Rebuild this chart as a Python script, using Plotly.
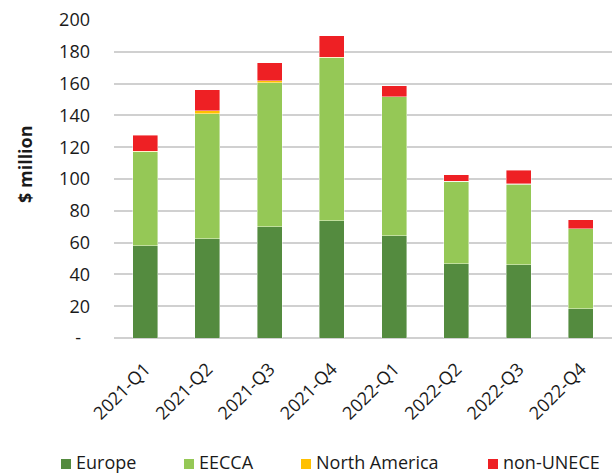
import plotly.graph_objects as go

quarters = ["2021-Q1", "2021-Q2", "2021-Q3", "2021-Q4",
            "2022-Q1", "2022-Q2", "2022-Q3", "2022-Q4"]
europe = [58.0, 62.5, 70.0, 73.6, 64.2, 46.7, 46.1, 18.4]
eecca = [59.2, 78.5, 90.6, 102.7, 87.4, 51.8, 50.6, 50.2]
north_america = [0.3, 1.8, 1.2, 0.2, 0.2, 0.1, 0.2, 0.1]
non_unece = [10.0, 13.2, 11.2, 13.7, 6.7, 4.2, 8.5, 5.8]

y_ticks = [0, 20, 40, 60, 80, 100, 120, 140, 160, 180, 200]
y_tick_text = ["-\u2002"] + [str(v) for v in y_ticks[1:]]

series = [
    ("Europe", europe, "#548B3F"),
    ("EECCA", eecca, "#95C856"),
    ("North America", north_america, "#FFC000"),
    ("non-UNECE", non_unece, "#EE2024"),
]

FONT = "Open Sans"
TEXT_COLOR = "#1a1a1a"

# Plot-area geometry in pixels (used to place the legend row below the axes)
W, H = 615, 474
M_L, M_R, M_T, M_B = 114, 3, 20, 136
PLOT_W = W - M_L - M_R
PLOT_H = H - M_T - M_B


def px_x(px):
    return (px - M_L) / PLOT_W


def px_y(py):
    return (H - M_B - py) / PLOT_H


fig = go.Figure()
for name, values, color in series:
    fig.add_trace(go.Bar(
        name=name, x=quarters, y=values,
        marker=dict(color=color, line=dict(width=0.6, color="rgba(255,255,255,0.7)")),
        hovertemplate=name + ": %{y}<extra></extra>",
        showlegend=False,
    ))

# Legend row: a coloured square followed by the series name
legend_left = [61, 184, 301, 488]
legend_mid = 463
shapes, annotations = [], []
for (name, _, color), left in zip(series, legend_left):
    shapes.append(dict(
        type="rect", xref="paper", yref="paper",
        x0=px_x(left), x1=px_x(left + 10),
        y0=px_y(legend_mid + 6), y1=px_y(legend_mid - 4),
        fillcolor=color, line=dict(width=0),
    ))
    annotations.append(dict(
        text=name, xref="paper", yref="paper",
        x=px_x(left + 14), y=px_y(legend_mid - 1),
        xanchor="left", yanchor="middle",
        borderpad=0,
        showarrow=False,
        font=dict(family=FONT, size=18, color=TEXT_COLOR),
    ))

annotations.append(dict(
    text="<b>$ million</b>",
    xref="paper", yref="paper",
    x=px_x(25), y=px_y(164),
    xanchor="center", yanchor="middle",
    textangle=-90,
    showarrow=False,
    font=dict(family=FONT, size=18, color=TEXT_COLOR),
))

fig.update_layout(
    barmode="stack",
    bargap=0.6,
    width=W, height=H,
    margin=dict(l=M_L, r=M_R, t=M_T, b=M_B),
    paper_bgcolor="white",
    plot_bgcolor="white",
    font=dict(family=FONT, size=18, color=TEXT_COLOR),
    showlegend=False,
    xaxis=dict(
        tickangle=-45,
        tickfont=dict(family=FONT, size=18),
        showgrid=False,
        showline=False,
        ticks="",
        automargin=False,
        ticklabelstandoff=16,
    ),
    yaxis=dict(
        range=[0, 200],
        tickvals=y_ticks,
        ticktext=y_tick_text,
        tickfont=dict(family=FONT, size=18),
        showgrid=True,
        gridcolor="#D0D0D0",
        gridwidth=1.5,
        zeroline=True,
        zerolinecolor="#D0D0D0",
        zerolinewidth=1.5,
        ticks="",
        ticklabelstandoff=23,
        automargin=False,
    ),
    shapes=shapes,
    annotations=annotations,
)

fig.write_html("out.html")
